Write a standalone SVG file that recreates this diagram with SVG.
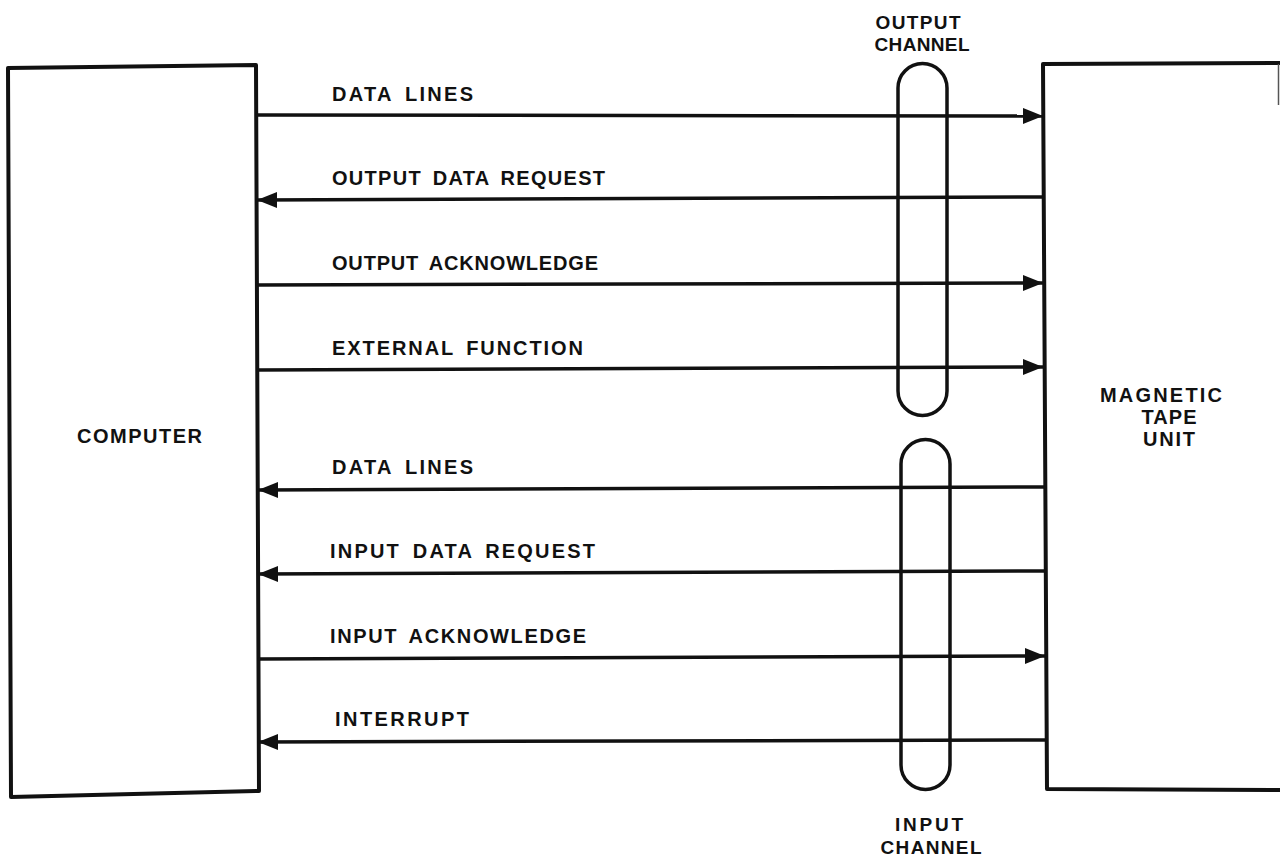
<svg xmlns="http://www.w3.org/2000/svg" width="1280" height="860" viewBox="0 0 1280 860">
<style>
.box{fill:none;stroke:#111;stroke-width:4;stroke-linejoin:round}
.cap{fill:none;stroke:#111;stroke-width:3.5}
.ln{fill:none;stroke:#111;stroke-width:3.5}
text{font-family:"Liberation Sans",Arial,sans-serif;font-weight:bold;font-size:20px;fill:#111;word-spacing:4px}
.mid{text-anchor:middle}
.ch{font-size:19px}
</style>
<defs>
<marker id="ah" markerUnits="userSpaceOnUse" markerWidth="22" markerHeight="18" refX="20" refY="8" orient="auto">
<path d="M0,0 L20,8 L0,16 Z" fill="#111"/>
</marker>
</defs>
<rect width="1280" height="860" fill="#fff"/>
<g id="computer">
<path class="box" d="M8,68 L256,65 L259,791 L11,797 Z"/>
<text x="77" y="443" textLength="125" lengthAdjust="spacing">COMPUTER</text>
</g>
<g id="tape-unit">
<path class="box" d="M1282,63 L1043,64 L1047,789 L1282,790"/>
<path d="M1278.5,64 L1278.5,105" stroke="#555" stroke-width="1.5"/>
<text class="mid" x="1161" y="402" textLength="122" lengthAdjust="spacing">MAGNETIC</text>
<text class="mid" x="1169" y="424" textLength="55" lengthAdjust="spacing">TAPE</text>
<text class="mid" x="1169" y="446" textLength="52" lengthAdjust="spacing">UNIT</text>
</g>
<g id="output-channel">
<path class="cap" d="M898,88 A24.5,24.5 0 0 1 947,88 L947,391 A24.5,24.5 0 0 1 898,391 Z"/>
<text class="mid ch" x="918" y="29" textLength="85" lengthAdjust="spacing">OUTPUT</text>
<text class="mid ch" x="922" y="51" textLength="95" lengthAdjust="spacing">CHANNEL</text>
</g>
<g id="input-channel">
<path class="cap" d="M901,464 A24.5,24.5 0 0 1 950,464 L950,765 A24.5,24.5 0 0 1 901,765 Z"/>
<text class="mid ch" x="929" y="831" textLength="68" lengthAdjust="spacing">INPUT</text>
<text class="mid ch" x="931" y="854" textLength="101" lengthAdjust="spacing">CHANNEL</text>
</g>
<g id="connectors">
<line class="ln" x1="257" y1="115" x2="1043" y2="116" marker-end="url(#ah)"/>
<line class="ln" x1="1043" y1="197" x2="257" y2="200" marker-end="url(#ah)"/>
<line class="ln" x1="257" y1="285" x2="1043" y2="283" marker-end="url(#ah)"/>
<line class="ln" x1="257" y1="370" x2="1043" y2="367" marker-end="url(#ah)"/>
<line class="ln" x1="1045" y1="487" x2="258" y2="490" marker-end="url(#ah)"/>
<line class="ln" x1="1045" y1="571" x2="258" y2="574" marker-end="url(#ah)"/>
<line class="ln" x1="258" y1="659" x2="1045" y2="656" marker-end="url(#ah)"/>
<line class="ln" x1="1046" y1="740" x2="258" y2="742" marker-end="url(#ah)"/>
</g>
<g id="labels">
<text x="332" y="101" textLength="141" lengthAdjust="spacing">DATA LINES</text>
<text x="332" y="185" textLength="273" lengthAdjust="spacing">OUTPUT DATA REQUEST</text>
<text x="332" y="270" textLength="266" lengthAdjust="spacing">OUTPUT ACKNOWLEDGE</text>
<text x="332" y="355" textLength="251" lengthAdjust="spacing">EXTERNAL FUNCTION</text>
<text x="332" y="474" textLength="141" lengthAdjust="spacing">DATA LINES</text>
<text x="330" y="558" textLength="265" lengthAdjust="spacing">INPUT DATA REQUEST</text>
<text x="330" y="643" textLength="256" lengthAdjust="spacing">INPUT ACKNOWLEDGE</text>
<text x="335" y="726" textLength="134" lengthAdjust="spacing">INTERRUPT</text>
</g>
</svg>
